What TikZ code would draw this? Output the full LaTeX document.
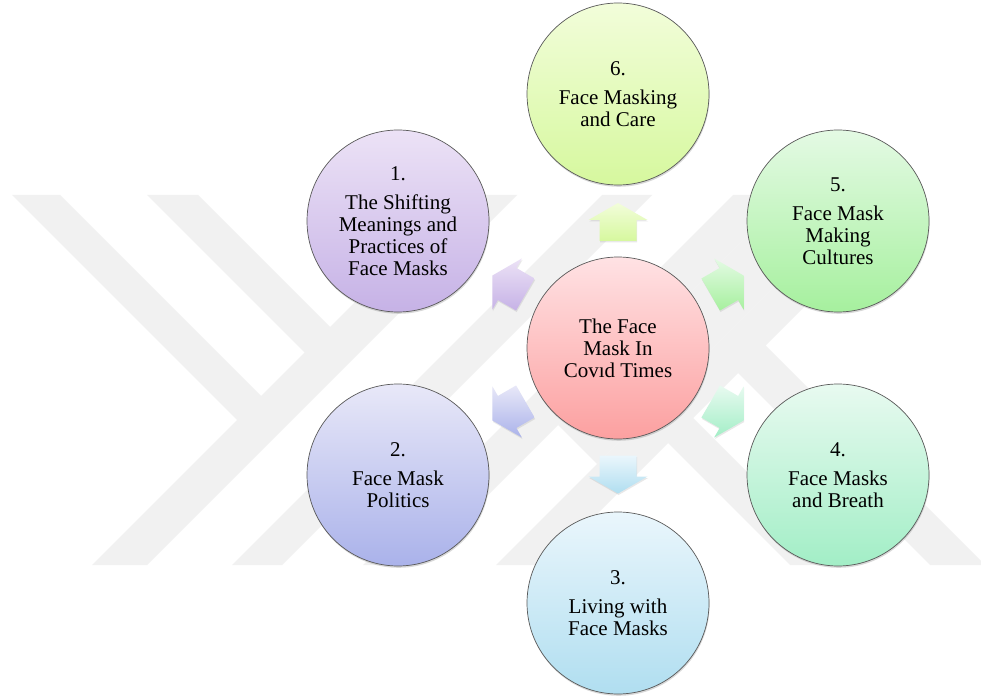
\documentclass[tikz,border=0pt]{standalone}
\usepackage{fontspec}
\setmainfont{Liberation Serif}
\usetikzlibrary{shadows,calc}
\definecolor{wm}{RGB}{241,241,241}
\definecolor{cct}{RGB}{255,226,228}\definecolor{ccb}{RGB}{252,160,160}
\definecolor{c1t}{RGB}{236,226,246}\definecolor{c1b}{RGB}{198,178,230}
\definecolor{c2t}{RGB}{232,232,248}\definecolor{c2b}{RGB}{170,178,234}
\definecolor{c3t}{RGB}{234,246,252}\definecolor{c3b}{RGB}{176,222,240}
\definecolor{c4t}{RGB}{232,250,240}\definecolor{c4b}{RGB}{162,238,198}
\definecolor{c5t}{RGB}{228,250,228}\definecolor{c5b}{RGB}{166,240,158}
\definecolor{c6t}{RGB}{242,253,218}\definecolor{c6b}{RGB}{214,248,158}
\begin{document}
\begin{tikzpicture}[x=1pt,y=-1pt,
  bubble/.style={circle, draw=black!65, line width=0.7pt, minimum size=182pt,
    inner sep=0pt, align=center, font=\fontsize{21}{22}\selectfont,
    drop shadow={opacity=0.3, shadow xshift=0.6pt, shadow yshift=-1.8pt}},
  blockarrow/.style={drop shadow={opacity=0.18, shadow xshift=0.6pt, shadow yshift=-1.5pt}}
]
\useasboundingbox (0,0) rectangle (981,700);
\fill[white] (0,0) rectangle (981,700);
% watermark
\begin{scope}
  \clip (0,195) rectangle (981,565);
  \fill[wm] (12,195) -- (60,195) -- (275,410) -- (251,434) -- cycle;
  \fill[wm] (147,195) -- (198,195) -- (344,341) -- (318.5,366.5) -- cycle;
  \fill[wm] (462,195) -- (517,195) -- (147,565) -- (92,565) -- cycle;
  \fill[wm] (602,195) -- (652,195) -- (282,565) -- (232,565) -- cycle;
  \fill[wm] (733,195) -- (788,195) -- (418,565) -- (363,565) -- cycle;
  \fill[wm] (866,195) -- (916,195) -- (546,565) -- (496,565) -- cycle;
  \fill[wm] (788,195) -- (866,195) -- (597,464) -- (558,425) -- cycle;
  \fill[wm] (655,430) -- (680,405) -- (840,565) -- (790,565) -- cycle;
  \fill[wm] (725,360) -- (752.5,332.5) -- (985,565) -- (930,565) -- cycle;
\end{scope}
% nodes
\node[bubble, top color=cct, bottom color=ccb] (c) at (618,348) {The Face\\Mask In\\Covıd Times};
\node[bubble, top color=c6t, bottom color=c6b] (n6) at (618,94) {6.\\[7pt]Face Masking\\and Care};
\node[bubble, top color=c1t, bottom color=c1b] (n1) at (398,221) {1.\\[7pt]The Shifting\\Meanings and\\Practices of\\Face Masks};
\node[bubble, top color=c5t, bottom color=c5b] (n5) at (838,221) {5.\\[7pt]Face Mask\\Making\\Cultures};
\node[bubble, top color=c2t, bottom color=c2b] (n2) at (398,475) {2.\\[7pt]Face Mask\\Politics};
\node[bubble, top color=c4t, bottom color=c4b] (n4) at (838,475) {4.\\[7pt]Face Masks\\and Breath};
\node[bubble, top color=c3t, bottom color=c3b] (n3) at (618,603) {3.\\[7pt]Living with\\Face Masks};
% block arrows
\foreach \t/\ang/\ct/\cb in {n6/90/c6t/c6b, n5/30/c5t/c5b, n1/150/c1t/c1b, n2/210/c2t/c2b, n4/330/c4t/c4b, n3/270/c3t/c3b}{
  \begin{scope}[shift={($(c)!0.5!(\t)$)}, rotate=\ang]
    \path[blockarrow, top color=\ct, bottom color=\cb] (-20,-18.5) -- (1,-18.5) -- (1,-29.5) -- (18,0) -- (1,29.5) -- (1,18.5) -- (-20,18.5) -- cycle;
  \end{scope}
}
\end{tikzpicture}
\end{document}
